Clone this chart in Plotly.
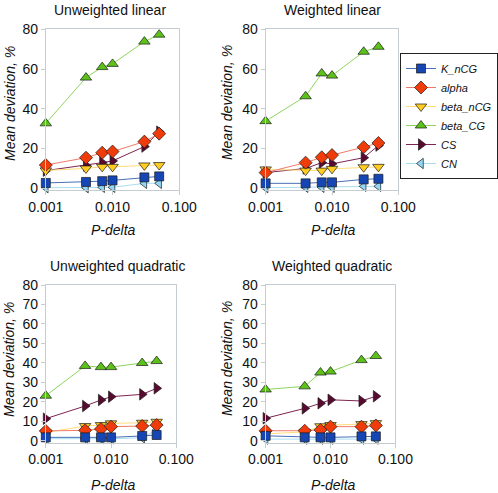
import plotly.graph_objects as go

# ---------------- data ----------------
p_delta = [0.001, 0.004, 0.007, 0.01, 0.03, 0.05]
series_names = ["K_nCG", "alpha", "beta_nCG", "beta_CG", "CS", "CN"]
panel_titles = ["Unweighted linear", "Weighted linear", "Unweighted quadratic", "Weighted quadratic"]
x_tick_vals = [0.001, 0.01, 0.1]
x_tick_text = ["0.001", "0.010", "0.100"]
y_ticks_top = [0, 20, 40, 60, 80]
y_ticks_bottom = [0, 10, 20, 30, 40, 50, 60, 70, 80]

# Unweighted linear
ul_K_nCG = [2.7, 3.2, 3.6, 4.0, 5.5, 6.0]
ul_alpha = [11.7, 15.4, 17.9, 18.5, 23.5, 27.5]
ul_beta_nCG = [9.0, 10.0, 10.8, 10.8, 11.5, 11.7]
ul_beta_CG = [32.7, 55.7, 61.0, 62.6, 73.8, 77.3]
ul_CS = [8.9, 11.5, 12.9, 13.8, 21.0, 28.5]
ul_CN = [0.3, 0.3, 0.5, 0.5, 2.5, 2.5]

# Weighted linear
wl_K_nCG = [2.5, 2.5, 3.0, 3.0, 4.5, 4.8]
wl_alpha = [7.9, 12.9, 15.6, 16.7, 20.7, 22.8]
wl_beta_nCG = [9.5, 8.9, 8.9, 9.8, 10.6, 10.8]
wl_beta_CG = [33.8, 46.3, 57.8, 56.7, 68.7, 71.2]
wl_CS = [7.9, 10.0, 12.9, 12.3, 15.4, 21.5]
wl_CN = [0.3, 0.5, 0.5, 0.5, 1.0, 1.0]

# Unweighted quadratic
uq_K_nCG = [1.7, 1.7, 1.7, 1.7, 2.4, 2.9]
uq_alpha = [5.0, 5.3, 6.0, 7.2, 7.5, 8.0]
uq_beta_nCG = [4.2, 7.5, 8.0, 8.9, 9.2, 9.7]
uq_beta_CG = [23.1, 38.4, 37.8, 37.8, 39.9, 40.9]
uq_CS = [11.3, 17.8, 20.9, 22.6, 23.8, 26.9]
uq_CN = [1.0, 1.0, 1.0, 1.0, 1.5, 5.5]

# Weighted quadratic
wq_K_nCG = [2.5, 1.7, 1.7, 1.7, 2.2, 2.2]
wq_alpha = [5.1, 5.1, 5.5, 7.2, 7.2, 7.8]
wq_beta_nCG = [3.5, 4.5, 7.4, 8.0, 8.5, 9.0]
wq_beta_CG = [26.3, 27.9, 35.0, 35.5, 41.4, 43.5]
wq_CS = [11.5, 16.6, 19.2, 21.0, 20.4, 22.8]
wq_CN = [0.8, 0.8, 0.8, 0.8, 0.8, 0.8]

panel_data = [
    [ul_K_nCG, ul_alpha, ul_beta_nCG, ul_beta_CG, ul_CS, ul_CN],
    [wl_K_nCG, wl_alpha, wl_beta_nCG, wl_beta_CG, wl_CS, wl_CN],
    [uq_K_nCG, uq_alpha, uq_beta_nCG, uq_beta_CG, uq_CS, uq_CN],
    [wq_K_nCG, wq_alpha, wq_beta_nCG, wq_beta_CG, wq_CS, wq_CN],
]

# ---------------- styles / layout ----------------
W, H = 498, 493


def px(x):
    return x / W


def py(y):
    return 1 - y / H


styles = {
    "K_nCG": dict(symbol="square", fill="#1646b4", line="#4a70b8", size=9),
    "alpha": dict(symbol="diamond", fill="#f03c0a", line="#f07a68", size=10),
    "beta_nCG": dict(symbol="triangle-down", fill="#ffcc22", line="#ffdc78", size=10),
    "beta_CG": dict(symbol="triangle-up", fill="#5cc21a", line="#8ed45e", size=10),
    "CS": dict(symbol="triangle-right", fill="#5a0a30", line="#7e2452", size=10),
    "CN": dict(symbol="triangle-left", fill="#92d8f6", line="#a8dcf0", size=9),
}
draw_order = ["CN", "CS", "beta_CG", "beta_nCG", "alpha", "K_nCG"]

# window pixel boxes: (left, right, top(=80), bottom)
boxes = [
    (46, 180, 29.3, 190.3),
    (266.7, 400, 29.3, 190.3),
    (46, 177, 285, 442.6),
    (266.7, 397, 285, 442.6),
]

frame_col = "#c5cdd2"
fig = go.Figure()
layout_axes = {}
annotations = []

for i, (vals, box) in enumerate(zip(panel_data, boxes)):
    n = "" if i == 0 else str(i + 1)
    xa, ya = "x" + n, "y" + n
    for name in draw_order:
        st = styles[name]
        y = vals[series_names.index(name)]
        fig.add_trace(go.Scatter(
            x=p_delta, y=y, name=name, xaxis=xa, yaxis=ya,
            mode="lines+markers",
            line=dict(color=st["line"], width=1),
            marker=dict(symbol=st["symbol"], size=st["size"], color=st["fill"],
                        line=dict(color="#1a1a1a", width=0.7)),
            showlegend=(i == 0), legendrank=series_names.index(name) + 1,
            cliponaxis=False,
        ))
    l, r, t, b = box
    layout_axes["xaxis" + n] = dict(
        type="log", range=[-3, -1], domain=[px(l), px(r)], anchor=ya,
        tickvals=x_tick_vals, ticktext=x_tick_text, automargin=False,
        showline=True, mirror=True, linecolor=frame_col, linewidth=1,
        ticks="outside", ticklen=4, tickcolor=frame_col,
        showgrid=False, zeroline=False,
        tickfont=dict(size=14, color="#111"),
    )
    layout_axes["yaxis" + n] = dict(
        range=[-1, 80], domain=[py(b), py(t)], anchor=xa,
        tickvals=y_ticks_top if i < 2 else y_ticks_bottom, automargin=False,
        showline=True, mirror=True, linecolor=frame_col, linewidth=1,
        ticks="outside", ticklen=4, tickcolor=frame_col,
        showgrid=False, zeroline=False,
        tickfont=dict(size=14, color="#111"),
    )

title_pos = [(110, 10), (334, 10), (118, 266), (333, 266)]
ytitle_pos = [(10, 103), (228, 103), (9, 359), (228, 359)]
xtitle_pos = [(114, 230), (335, 230), (114, 485), (335, 485)]
for i in range(4):
    tx, ty = title_pos[i]
    annotations.append(dict(text=panel_titles[i], x=px(tx), y=py(ty), xref="paper", yref="paper",
                            showarrow=False, xanchor="center", yanchor="middle",
                            font=dict(size=14, color="#111")))
    yx, yy = ytitle_pos[i]
    annotations.append(dict(text="Mean deviation, %", x=px(yx), y=py(yy), xref="paper", yref="paper",
                            showarrow=False, xanchor="center", yanchor="middle", textangle=-90,
                            font=dict(size=14, color="#111", style="italic")))
    xx, xy = xtitle_pos[i]
    annotations.append(dict(text="P-delta", x=px(xx), y=py(xy), xref="paper", yref="paper",
                            showarrow=False, xanchor="center", yanchor="middle",
                            font=dict(size=14, color="#111", style="italic")))

fig.update_layout(
    width=W, height=H,
    margin=dict(l=0, r=0, t=0, b=0),
    paper_bgcolor="white", plot_bgcolor="white",
    font=dict(family="Liberation Sans, Arial, sans-serif", color="#111"),
    showlegend=True,
    legend=dict(x=px(402), y=py(53), xanchor="left", yanchor="top",
                bordercolor="#222", borderwidth=1, bgcolor="white",
                font=dict(size=11, style="italic", color="#111"),
                itemwidth=30, tracegroupgap=0),
    annotations=annotations,
    **layout_axes,
)

# remove the browser's default 8px page margin so the figure fills the window
fig.write_html("out.html", config={"displayModeBar": False},
               post_script="document.body.style.margin='0';")
